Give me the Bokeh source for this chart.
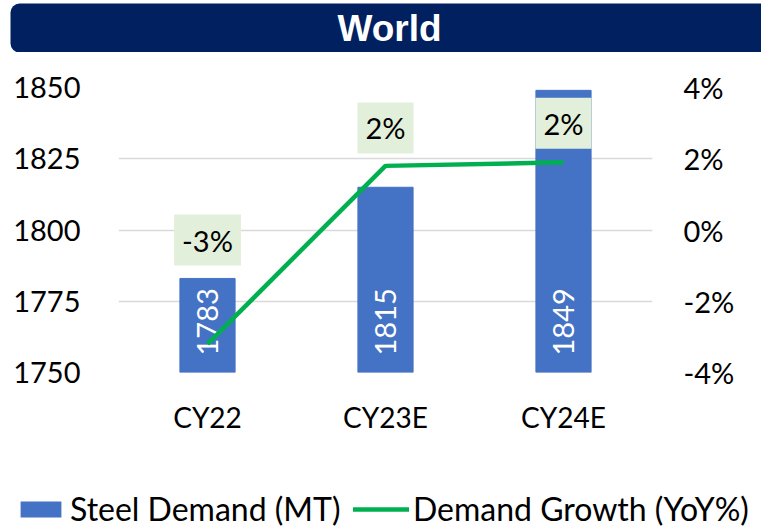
import math
from bokeh.plotting import figure
from bokeh.models import (Range1d, LinearAxis, FixedTicker, PrintfTickFormatter,
                          ColumnDataSource, Legend, LegendItem, Label, FactorRange,
                          BoxAnnotation)
from bokeh.layouts import column
from bokeh.core.properties import value
from bokeh.embed import file_html
from bokeh.resources import INLINE

# ---------------- data ----------------
title_text = "World"
categories = ["CY22", "CY23E", "CY24E"]
steel_demand = [1783, 1815, 1849]
growth_pct = [-3.2, 1.8, 1.9]
growth_labels = ["-3%", "2%", "2%"]
left_ticks = [1750, 1775, 1800, 1825, 1850]
right_ticks = [-4, -2, 0, 2, 4]
series_names = ["Steel Demand (MT)", "Demand Growth (YoY%)"]

# ---------------- style ----------------
label_offsets = [-104, -38, -39]   # screen px shift of the growth labels
FONT = "Lato"
BAR = "#4472C4"
GREEN = "#00B050"
NAVY = "#002060"
W = 761
H_TITLE, H_MAIN, H_LEG = 52, 388, 89


def bare(fig):
    fig.grid.visible = False
    fig.outline_line_color = None
    fig.frame_align = False


# ---------------- title bar ----------------
tf = figure(width=W, height=H_TITLE, x_range=Range1d(0, W), y_range=Range1d(0, H_TITLE),
            x_axis_type=None, y_axis_type=None,
            toolbar_location=None, output_backend="svg", min_border=0, title=None)
bare(tf)
tf.add_layout(BoxAnnotation(left=10, right=W + 20, bottom=0, top=49,
                            fill_color=NAVY, fill_alpha=1, line_color=None,
                            border_radius=9))
tf.add_layout(Label(x=389, y=24, text=title_text, text_align="center",
                    text_baseline="middle", text_color="white",
                    text_font="Liberation Sans", text_font_style="bold",
                    text_font_size="37px"))

# ---------------- main chart ----------------
p = figure(width=W, height=H_MAIN, x_range=FactorRange(factors=categories),
           y_range=Range1d(left_ticks[0], left_ticks[-1]),
           toolbar_location=None, output_backend="svg", title=None,
           min_border_left=118, min_border_right=109, min_border_top=35,
           min_border_bottom=68)
p.outline_line_color = None
p.frame_align = False
p.xgrid.visible = False
p.ygrid.ticker = FixedTicker(ticks=left_ticks)
p.ygrid.grid_line_color = "#D9D9D9"
p.ygrid.grid_line_width = 1.5

p.extra_y_ranges = {"pct": Range1d(right_ticks[0], right_ticks[-1])}
rax = LinearAxis(y_range_name="pct", ticker=FixedTicker(ticks=right_ticks),
                 formatter=PrintfTickFormatter(format="%d%%"))
p.add_layout(rax, "right")

p.yaxis[0].ticker = FixedTicker(ticks=left_ticks)
for ax in [p.xaxis[0], p.yaxis[0], rax]:
    ax.axis_line_color = None
    ax.major_tick_line_color = None
    ax.minor_tick_line_color = None
    ax.major_label_text_font = FONT
    ax.major_label_text_font_size = "29px"
    ax.major_label_text_color = "black"
p.xaxis[0].major_label_text_font_size = "28px"
p.yaxis[0].major_label_standoff = 32
rax.major_label_standoff = 25
p.xaxis[0].major_label_standoff = 21

src = ColumnDataSource(dict(cat=categories, val=steel_demand, pct=growth_pct,
                            plabel=growth_labels,
                            vlabel=[str(v) for v in steel_demand],
                            off=label_offsets))

bars = p.vbar(x="cat", top="val", bottom=left_ticks[0], width=0.31, source=src,
              fill_color=BAR, line_color=BAR)

p.text(x="cat", y=left_ticks[0], text="vlabel", source=src, angle=math.pi / 2,
       text_align="left", text_baseline="middle", y_offset=-17,
       text_color="white", text_font=value(FONT), text_font_size="29px")

line = p.line(x="cat", y="pct", y_range_name="pct", source=src,
              line_color=GREEN, line_width=4.5)

p.text(x="cat", y="pct", text="plabel", y_range_name="pct", source=src,
       y_offset="off", text_align="center", text_baseline="middle",
       text_color="black", text_font=value(FONT), text_font_size="29px",
       background_fill_color="#E2EFDA", padding=8)

# ---------------- legend strip ----------------
# legend swatches: zero-width copies of the series, outside this strip's visible range
lf = figure(width=W, height=H_LEG, x_range=FactorRange(factors=categories),
            y_range=Range1d(0, 1), x_axis_type=None, y_axis_type=None,
            toolbar_location=None, output_backend="svg", min_border=0, title=None)
bare(lf)
proxy_bar = lf.vbar(x="cat", top="val", bottom=left_ticks[0], width=0, source=src,
                    fill_color=BAR, line_color=None)
proxy_line = lf.line(x="cat", y="val", source=src, line_color=GREEN, line_width=4.5,
                     line_cap="round")

leg1 = Legend(items=[LegendItem(label=series_names[0], renderers=[proxy_bar])],
              location=(15, 1), glyph_width=51, glyph_height=20)
leg2 = Legend(items=[LegendItem(label=series_names[1], renderers=[proxy_line])],
              location=(353, 1), glyph_width=56, glyph_height=20)
for lg in (leg1, leg2):
    lg.padding = 0
    lg.margin = 0
    lg.border_line_color = None
    lg.background_fill_alpha = 0
    lg.label_text_font = FONT
    lg.label_text_font_size = "32px"
    lg.label_text_color = "black"
    lg.label_standoff = 4
    lf.add_layout(lg)

layout = column(tf, p, lf)
open("out.html", "w").write(file_html(layout, INLINE))
